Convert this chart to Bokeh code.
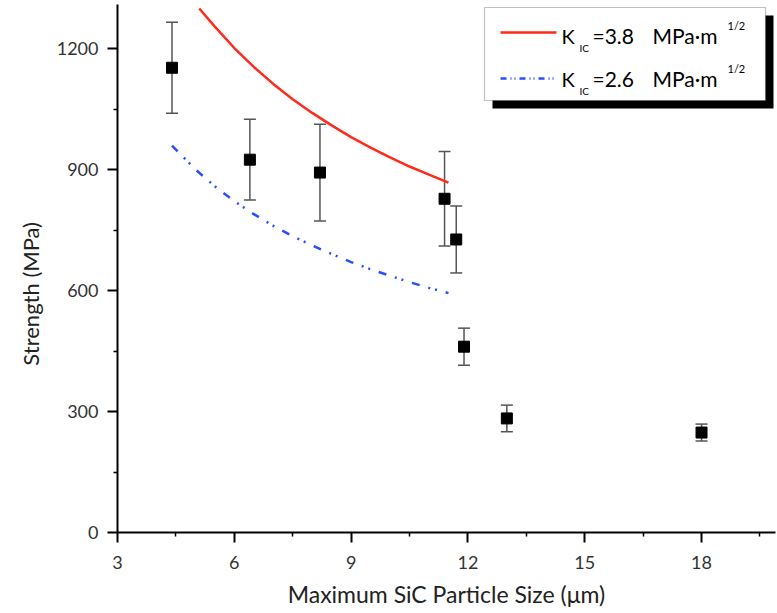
from bokeh.plotting import figure
from bokeh.models import ColumnDataSource, Whisker, TeeHead, Label, FixedTicker, BoxAnnotation, Range1d
from bokeh.embed import file_html
from bokeh.resources import INLINE

# ---- data ----
size_um = [4.4, 6.4, 8.2, 11.4, 11.7, 11.9, 13.0, 18.0]
strength = [1153, 925, 893, 828, 727, 461, 283, 248]
err = [113, 100, 120, 117, 83, 46, 33, 21]

k38_size = [5.1, 5.5, 6.0, 6.5, 7.0, 7.5, 8.0, 8.5, 9.0, 9.5, 10.0, 10.5, 11.0, 11.5]
k38_strength = [1300, 1255, 1202, 1155, 1113, 1075, 1041, 1010, 981, 955, 931, 908, 888, 868]

k26_size = [4.4, 5.0, 5.5, 6.0, 6.5, 7.0, 7.5, 8.0, 8.5, 9.0, 9.5, 10.0, 10.5, 11.0, 11.5]
k26_strength = [960, 901, 859, 822, 790, 761, 735, 712, 691, 671, 653, 637, 621, 607, 594]

x_ticks = [3, 6, 9, 12, 15, 18]
y_ticks = [0, 300, 600, 900, 1200]

legend_values = ["=3.8", "=2.6"]

FONT = "Lato"
X0, X1 = 3, 19.9
Y0, Y1 = 0, 1310
W, H = 777, 613
L, R, T, B = 117, 2, 4, 81

p = figure(width=W, height=H, x_range=Range1d(X0, X1), y_range=Range1d(Y0, Y1),
           output_backend="svg", toolbar_location=None,
           min_border_left=L, min_border_right=R, min_border_top=T, min_border_bottom=B)
p.outline_line_color = None
p.xgrid.visible = False
p.ygrid.visible = False
p.background_fill_color = "white"
p.border_fill_color = "white"

fw = W - L - R
fh = H - T - B
def px2x(px):
    return X0 + (px - L) / fw * (X1 - X0)
def py2y(py):
    return Y0 + (T + fh - py) / fh * (Y1 - Y0)

for ax in (p.xaxis[0], p.yaxis[0]):
    ax.axis_line_color = "black"
    ax.axis_line_width = 2
    ax.major_tick_line_color = "black"
    ax.minor_tick_line_color = "black"
    ax.major_tick_line_width = 2
    ax.minor_tick_line_width = 1.5
    ax.major_tick_in = 0
    ax.minor_tick_in = 0
    ax.major_label_text_font = FONT
    ax.major_label_text_font_size = "18px"
    ax.major_label_text_color = "#333333"
    ax.axis_label_text_font = FONT
    ax.axis_label_text_font_style = "normal"
    ax.axis_label_text_color = "#222222"

p.xaxis.ticker = FixedTicker(ticks=x_ticks, minor_ticks=[4.5, 7.5, 10.5, 13.5, 16.5, 19.5])
p.yaxis.ticker = FixedTicker(ticks=y_ticks, minor_ticks=[150, 450, 750, 1050])
p.xaxis.major_tick_out = 10
p.xaxis.minor_tick_out = 4
p.yaxis.major_tick_out = 10
p.yaxis.minor_tick_out = 4
p.xaxis.major_label_standoff = 13
p.yaxis.major_label_standoff = 9
p.xaxis.axis_label = "Maximum SiC Particle Size (μm)"
p.xaxis.axis_label_text_font_size = "23px"
p.xaxis.axis_label_standoff = 8
# trailing no-break spaces shift the rotated label toward the lower half, as in the reference
p.yaxis.axis_label = "Strength (MPa)" + "\u00a0" * 9
p.yaxis.axis_label_text_font_size = "22px"
p.yaxis.axis_label_standoff = 10

# theory curves
p.line(k38_size, k38_strength, line_color="#ff2a1a", line_width=2.5)
p.line(k26_size, k26_strength, line_color="#2a4dff", line_width=2.5, line_dash="8 9 2 5 2 9")

# data with error bars
src = ColumnDataSource(dict(x=size_um, y=strength,
                            upper=[s + e for s, e in zip(strength, err)],
                            lower=[s - e for s, e in zip(strength, err)]))
wh = Whisker(base="x", upper="upper", lower="lower", source=src,
             line_color="#555555", line_width=1.5,
             upper_head=TeeHead(size=12, line_color="#555555", line_width=1.5),
             lower_head=TeeHead(size=12, line_color="#555555", line_width=1.5))
p.add_layout(wh)
p.scatter("x", "y", source=src, marker="square", size=11, fill_color="black", line_color="black")

# legend (drawn manually to allow sub/superscripts)
shadow = BoxAnnotation(left=px2x(492), right=px2x(773), top=py2y(15), bottom=py2y(108),
                       fill_color="black", fill_alpha=1, line_color=None, level="underlay")
box = BoxAnnotation(left=px2x(484), right=px2x(765), top=py2y(7), bottom=py2y(100),
                    fill_color="white", fill_alpha=1, line_color="#333333", line_width=1.2,
                    level="underlay")
p.add_layout(shadow)
p.add_layout(box)

p.line([px2x(500), px2x(556)], [py2y(32), py2y(32)], line_color="#ff2a1a", line_width=2.5)
p.line([px2x(500), px2x(556)], [py2y(78), py2y(78)], line_color="#2a4dff", line_width=2.5, line_dash="6 4 1 3 1 4")

def lab(px, py, text, size):
    p.add_layout(Label(x=px2x(px), y=py2y(py), text=text, text_font=FONT, text_font_size=size,
                       text_baseline="middle", text_align="left", text_color="black"))

for cy, val in zip([35, 78], legend_values):
    lab(561, cy, "K", "20px")
    lab(579, cy + 12, "IC", "10px")
    lab(592, cy, val, "21px")
    lab(652, cy, "MPa·m", "21px")
    lab(727, cy - 10, "1/2", "11px")

open("out.html", "w").write(file_html(p, INLINE))
